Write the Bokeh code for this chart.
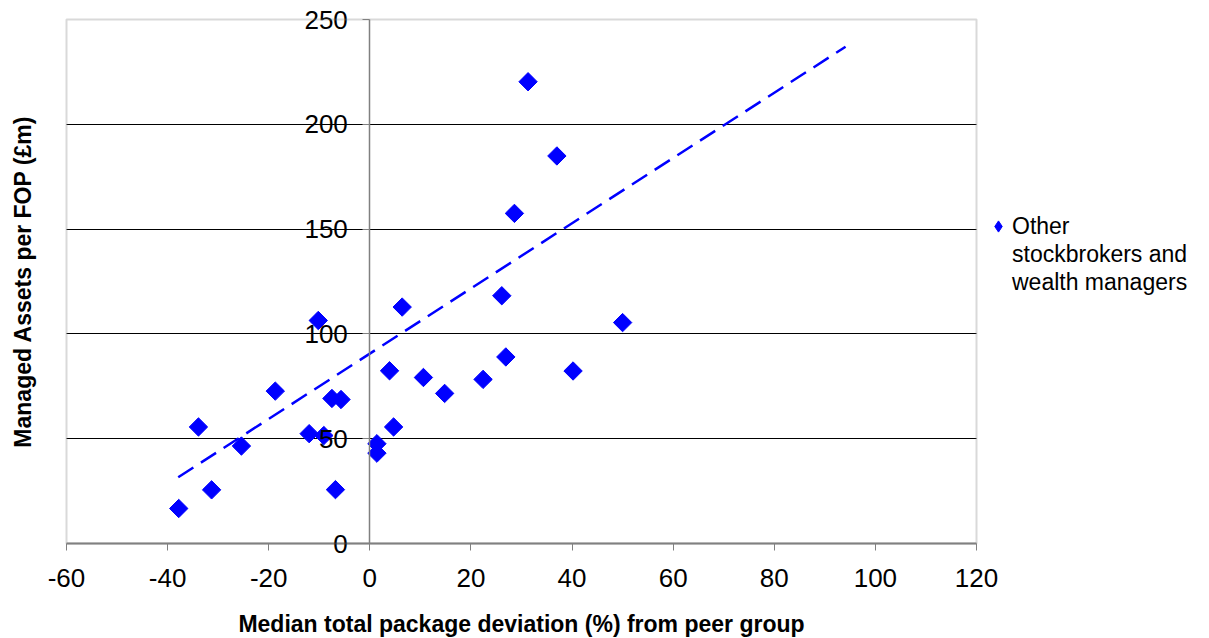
import numpy as np
from bokeh.plotting import figure
from bokeh.models import (Range1d, LinearAxis, Legend, LegendItem, FixedTicker, Label,
                          Grid, BoxAnnotation)
from bokeh.embed import file_html
from bokeh.resources import INLINE

# Data
x_dev = [-37.8, -31.3, -33.9, -25.4, -18.7, -10.2, -12.0, -9.1, -7.5, -5.7, -6.8,
         1.4, 1.4, 3.9, 4.7, 6.4, 10.6, 14.8, 22.4, 26.9, 26.1, 31.3, 37.0, 28.6, 50.0, 40.2]
y_assets = [16.7, 25.6, 55.6, 46.5, 72.7, 106.4, 52.4, 51.5, 69.2, 68.7, 25.7,
            47.6, 43.1, 82.4, 55.6, 112.8, 79.2, 71.6, 78.3, 89.0, 118.2, 220.3, 184.9, 157.5, 105.4, 82.3]
trend_x = [-37.9, 94.1]
trend_y = [31.6, 237.0]
x_ticks = [-60, -40, -20, 0, 20, 40, 60, 80, 100, 120]
y_ticks = [0, 50, 100, 150, 200, 250]
grid_ticks = [50, 100, 150, 200]
series_label = ["Other", "stockbrokers and", "wealth managers"]
x_title = "Median total package deviation (%) from peer group"
y_title = "Managed Assets per FOP (£m)"

# Layout (pixels): plot area inside the 1209x638 canvas
W, H = 1209, 638
PL, PR, PT, PB = 66, 976, 19, 543
XMIN, XMAX = x_ticks[0], x_ticks[-1]
YMIN, YMAX = y_ticks[0], y_ticks[-1]
sx = (PR - PL) / (XMAX - XMIN)
sy = (PB - PT) / (YMAX - YMIN)
x_range = Range1d(XMIN - PL / sx, XMAX + (W - PR) / sx)
y_range = Range1d(YMIN - (H - PB) / sy, YMAX + PT / sy)

FONT = "Liberation Sans"
BLUE = "#0000FF"
GREY = "#808080"

p = figure(width=W, height=H, x_range=x_range, y_range=y_range,
           x_axis_location=None, y_axis_location=None,
           output_backend="svg", toolbar_location=None, min_border=0)
p.outline_line_color = None
p.background_fill_color = "white"
p.border_fill_color = "white"
p.xgrid.visible = False
p.ygrid.visible = False

# horizontal gridlines limited to the plot area
if "cross_bounds" in Grid.properties():
    p.add_layout(Grid(dimension=1, ticker=FixedTicker(ticks=grid_ticks),
                      cross_bounds=(XMIN, XMAX),
                      grid_line_color="black", grid_line_width=1))
else:
    p.segment(x0=[XMIN] * len(grid_ticks), x1=[XMAX] * len(grid_ticks),
              y0=grid_ticks, y1=grid_ticks, line_color="black", line_width=1)

# plot-area border
p.add_layout(BoxAnnotation(left=XMIN, right=XMAX, bottom=YMIN, top=YMAX,
                           fill_color=None, fill_alpha=0, line_color=GREY, line_width=2))

# x axis along y = 0
xa = LinearAxis(fixed_location=0, bounds=(XMIN, XMAX), ticker=FixedTicker(ticks=x_ticks),
                major_label_overrides={t: str(t) for t in x_ticks},
                axis_line_color=GREY, axis_line_width=2,
                major_tick_line_color=GREY, major_tick_line_width=1,
                major_tick_out=7, major_tick_in=0,
                minor_tick_line_color=None, minor_tick_out=0, minor_tick_in=0,
                major_label_text_font=FONT, major_label_text_font_size="26px",
                major_label_text_color="black", major_label_standoff=18,
                axis_label=x_title, axis_label_text_font=FONT,
                axis_label_text_font_size="23px", axis_label_text_font_style="bold",
                axis_label_text_color="black", axis_label_standoff=21)
p.add_layout(xa, "below")

# y axis crossing at x = 0
ya = LinearAxis(fixed_location=0, bounds=(YMIN, YMAX), ticker=FixedTicker(ticks=y_ticks),
                major_label_overrides={t: str(t) for t in y_ticks},
                axis_line_color=GREY, axis_line_width=1.5,
                major_tick_line_color=GREY, major_tick_out=7, major_tick_in=0,
                minor_tick_line_color=None, minor_tick_out=0, minor_tick_in=0,
                major_label_text_font=FONT, major_label_text_font_size="26px",
                major_label_text_color="black", major_label_standoff=15)
p.add_layout(ya, "left")

# y axis title (vertical, far left)
p.add_layout(Label(x=22.5, y=H - (PT + PB) / 2, x_units="screen", y_units="screen",
                   text=y_title, angle=np.pi / 2, text_align="center", text_baseline="middle",
                   text_font=FONT, text_font_size="23px", text_font_style="bold",
                   text_color="black"))

r = p.scatter(x_dev, y_assets, marker="square", angle=np.pi / 4, size=13,
              fill_color=BLUE, line_color=BLUE, line_width=1)
p.line(trend_x, trend_y, line_color=BLUE, line_width=2.5, line_dash="18 9")

# legend key: a diamond marker renderer with no visible point on the plot
legend_marker = p.scatter(x=[np.nan], y=[np.nan], marker="diamond",
                          fill_color=BLUE, line_color=BLUE, line_width=1)
blank = p.scatter(x=[np.nan], y=[np.nan], marker="square", fill_alpha=0, line_alpha=0)

legend = Legend(items=[LegendItem(label=series_label[0], renderers=[legend_marker]),
                       LegendItem(label=series_label[1], renderers=[blank]),
                       LegendItem(label=series_label[2], renderers=[blank])],
                location=(984, 342), orientation="vertical",
                border_line_color=None, background_fill_alpha=0,
                label_text_font=FONT, label_text_font_size="23px", label_text_color="black",
                glyph_width=28, glyph_height=28, label_height=28, spacing=0, padding=0, margin=0,
                label_standoff=0)
p.add_layout(legend)

open("out.html", "w").write(file_html(p, INLINE))
